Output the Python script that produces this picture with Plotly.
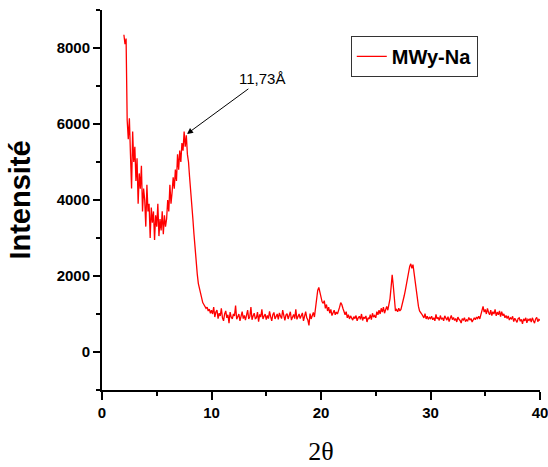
import numpy as np
import plotly.graph_objects as go

# 2-theta grid (degrees), step 0.1 from 2.0 to 40.0
two_theta_start = 2.0
two_theta_step = 0.1

intensity = [
    # 2.0 - 10.0
    8350, 8100, 8250, 6100, 5600, 6150, 5200, 4300, 5800, 5000,
    5400, 4500, 5100, 3900, 4700, 4300, 4900, 3700, 4300, 4000,
    3300, 4400, 3700, 3900, 3000, 3800, 3400, 3700, 2950, 3600,
    3300, 3900, 3050, 3500, 3200, 3700, 3100, 3600, 3300, 3500,
    4000, 3700, 4400, 3900, 4200, 4600, 4300, 4800, 4500, 5200,
    4800, 5300, 5000, 5500, 5300, 5800, 5400, 5700, 5200, 5000,
    4600, 4300, 3900, 3500, 3100, 2700, 2300, 2050, 1800, 1650,
    1500, 1400, 1300, 1250, 1200, 1150, 1180, 1080, 1130, 1020,
    1100,
    # 10.1 - 19.4
    1000, 1180, 920, 1050, 1100, 880, 1020, 950, 1150, 900,
    820, 1000, 1080, 900, 980, 760, 1050, 920, 870, 1000,
    950, 1220, 860, 930, 1000, 820, 910, 1060, 880, 960,
    840, 1000, 1100, 870, 930, 1180, 850, 950, 1020, 880,
    900, 1050, 800, 990, 920, 1120, 870, 940, 1000, 850,
    960, 880, 1070, 930, 820, 980, 1040, 870, 920, 1000,
    860, 1030, 940, 880, 1100, 900, 830, 970, 1010, 870,
    950, 1060, 840, 920, 990, 880, 1120, 860, 930, 1000,
    880, 950, 1030, 820, 960, 1060, 900, 840, 700, 1010,
    870, 980, 1040, 920,
    # 19.5 - 23.0
    1200, 1450, 1620, 1700, 1560, 1450, 1320, 1280, 1350, 1150,
    1250, 1080, 1180, 1020, 1120, 960, 1060, 1100, 980, 1050,
    1000, 1080, 1180, 1300, 1250, 1150, 1040, 980, 1060, 900,
    980, 870, 950, 900, 840, 930,
    # 23.1 - 30.0
    880, 960, 820, 900, 940, 860, 1000, 830, 920, 880,
    950, 790, 900, 870, 980, 850, 1020, 920, 960, 900,
    1060, 980, 1100, 1000, 1150, 1050, 1180, 1020, 1120, 1200,
    1100, 1250, 1400, 1700, 2030, 1750, 1300, 1080, 1120, 1060,
    1150, 1080, 1120, 1220, 1320, 1480, 1620, 1800, 1970, 2120,
    2250, 2320, 2200, 2300, 2080, 1800, 1550, 1350, 1200, 1080,
    1020, 1000, 950, 900, 1010, 870, 940, 860, 910, 880,
    # 30.1 - 40.0
    940, 850, 900, 820, 990, 870, 910, 830, 960, 860,
    900, 820, 950, 880, 840, 930, 800, 890, 960, 850,
    910, 830, 880, 790, 920, 860, 830, 760, 880, 840,
    900, 800, 850, 820, 910, 840, 880, 790, 860, 900,
    850, 920, 880, 940, 870, 960, 1080, 1200, 1050, 1120,
    1000, 1150, 1040, 980, 1100, 960, 1060, 1000, 1120, 950,
    1050, 980, 1080, 930, 1060, 960, 1000, 900, 960, 880,
    950, 840, 900, 870, 940, 800, 890, 850, 780, 880,
    900, 810, 860, 740, 870, 820, 900, 770, 860, 830,
    880, 790, 900, 820, 760, 870, 910, 800, 860, 830,
]

two_theta = np.round(two_theta_start + two_theta_step * np.arange(len(intensity)), 2)

series_name = "MWy-Na"
peak_label = "11,73Å"
peak_x = 7.76
peak_y = 5740

x_ticks = [0, 10, 20, 30, 40]
y_ticks = [0, 2000, 4000, 6000, 8000]

fig = go.Figure()
fig.add_trace(go.Scatter(
    x=two_theta, y=intensity, mode="lines", name=series_name,
    line=dict(color="#ff0000", width=1.3),
))

fig.add_annotation(
    x=peak_x, y=peak_y, xref="x", yref="y",
    text=peak_label, showarrow=True,
    ax=75, ay=-55, axref="pixel", ayref="pixel",
    arrowhead=2, arrowsize=1.2, arrowwidth=1, arrowcolor="black",
    font=dict(family="Liberation Sans", size=15, color="black"),
)

axis_font = dict(family="Liberation Sans", size=15, color="black", weight=700)

fig.update_layout(
    width=548, height=467,
    margin=dict(l=102, r=8, t=10, b=77),
    paper_bgcolor="white", plot_bgcolor="white",
    showlegend=True,
    legend=dict(
        x=0.568, y=0.932, xanchor="left", yanchor="top",
        bordercolor="#333333", borderwidth=1,
        font=dict(family="Liberation Sans", size=20, color="black", weight=700),
        bgcolor="white",
    ),
    xaxis=dict(
        range=[0, 40], tickvals=x_ticks, ticks="outside", ticklen=8, tickwidth=2,
        showline=True, linecolor="black", linewidth=2, showgrid=False, zeroline=False,
        tickfont=axis_font, tickcolor="black", ticklabeloverflow="allow", automargin=False,
        minor=dict(ticks="outside", ticklen=4, tickwidth=2, dtick=5, tick0=0, tickcolor="black", showgrid=False),
        title=dict(text="2θ", font=dict(family="Liberation Serif", size=26, color="black"), standoff=22),
    ),
    yaxis=dict(
        range=[-1000, 9000], tickvals=y_ticks, ticks="outside", ticklen=7, tickwidth=2,
        showline=True, linecolor="black", linewidth=2, showgrid=False, zeroline=False,
        tickfont=axis_font, tickcolor="black", automargin=False,
        minor=dict(ticks="outside", ticklen=4, tickwidth=2, dtick=1000, tick0=0, tickcolor="black", showgrid=False),
        title=dict(text="Intensité", font=dict(family="Liberation Sans", size=29, color="black", weight=700), standoff=17),
    ),
)

fig.write_html("out.html")
